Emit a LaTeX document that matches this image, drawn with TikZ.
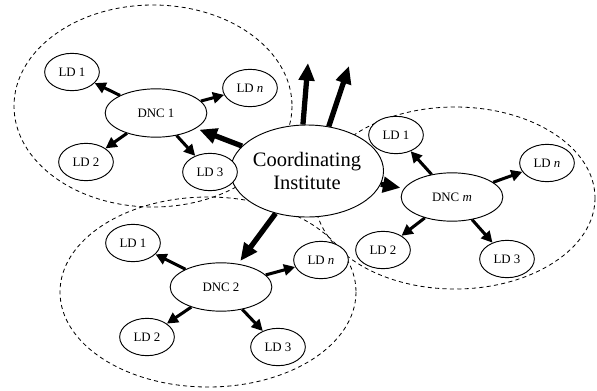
\documentclass[tikz,border=0pt]{standalone}
\usepackage{fontspec}
\setmainfont{Liberation Serif}
\usetikzlibrary{arrows.meta, shapes.geometric}

\begin{document}
\begin{tikzpicture}[
    x=0.03cm, y=-0.03cm,
    ld/.style={
        ellipse, draw, fill=white, line width=0.8pt, inner sep=0pt,
        minimum width=1.64cm, minimum height=1.12cm,
        font=\fontsize{11}{12}\selectfont
    },
    dnc/.style={
        ellipse, draw, fill=white, line width=0.8pt, inner sep=0pt,
        minimum width=3.05cm, minimum height=1.45cm,
        font=\fontsize{11}{12}\selectfont
    },
    inst/.style={
        ellipse, draw, fill=white, line width=0.8pt, inner sep=0pt,
        minimum width=3.93cm, minimum height=2.76cm, align=center,
        font=\fontsize{17.5}{19}\selectfont
    },
    region/.style={
        draw, dash pattern=on 3.5pt off 2.8pt, line width=0.7pt
    },
    arrow/.style={
        -{Triangle[length=9.5pt, width=9.5pt]}, line width=2.6pt
    },
    bigarrow/.style={
        -{Triangle[length=15pt, width=13pt]}, line width=4.5pt, shorten >=3pt
    }
]
\useasboundingbox (0,0) rectangle (597,390);

\draw[region] (153,106) ellipse [x radius=139, y radius=101];
\draw[region] (455,198) ellipse [x radius=140, y radius=91];
\draw[region] (208,292) ellipse [x radius=148, y radius=95];

\node[inst] (ci) at (307,171) {Coordinating\\Institute};

\node[dnc] (dnc1) at (156,113) {DNC 1};
\node[ld] (ld11) at (72,72) {LD 1};
\node[ld] (ld1n) at (250,88) {LD \textit{n}};
\node[ld] (ld12) at (86,162) {LD 2};
\node[ld] (ld13) at (210,172) {LD 3};

\node[dnc] (dncm) at (452,197) {DNC \textit{m}};
\node[ld] (ldm1) at (396,135) {LD 1};
\node[ld] (ldmn) at (547,163) {LD \textit{n}};
\node[ld] (ldm2) at (383,250) {LD 2};
\node[ld] (ldm3) at (507,259) {LD 3};

\node[dnc] (dnc2) at (221,287) {DNC 2};
\node[ld] (ld21) at (133,243) {LD 1};
\node[ld] (ld2n) at (321,260) {LD \textit{n}};
\node[ld] (ld22) at (147,337) {LD 2};
\node[ld] (ld23) at (278,347) {LD 3};

\coordinate (up1) at (308,63);
\coordinate (up2) at (349,66);

\draw[bigarrow] (ci) -- (dnc1);
\draw[bigarrow] (ci) -- (dncm);
\draw[bigarrow] (ci) -- (dnc2);
\draw[bigarrow, shorten >=0pt] (ci.95) -- (up1);
\draw[bigarrow, shorten >=0pt] (ci.64) -- (up2);

\draw[arrow] (dnc1) -- (ld11);
\draw[arrow] (dnc1) -- (ld1n);
\draw[arrow] (dnc1) -- (ld12);
\draw[arrow] (dnc1) -- (ld13);

\draw[arrow] (dncm) -- (ldm1);
\draw[arrow] (dncm) -- (ldmn);
\draw[arrow] (dncm) -- (ldm2);
\draw[arrow] (dncm) -- (ldm3);

\draw[arrow] (dnc2) -- (ld21);
\draw[arrow] (dnc2) -- (ld2n);
\draw[arrow] (dnc2) -- (ld22);
\draw[arrow] (dnc2) -- (ld23);

\end{tikzpicture}
\end{document}
